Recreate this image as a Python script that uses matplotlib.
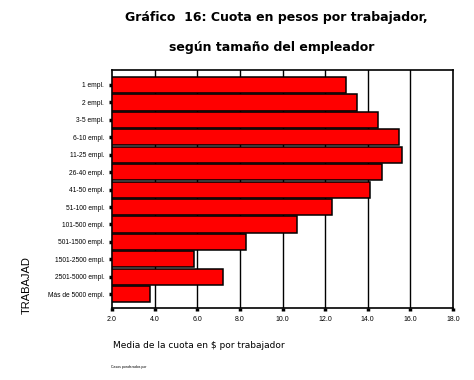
import matplotlib
matplotlib.use("Agg")
import matplotlib.pyplot as plt

# tamaño del empleador y cuota media por trabajador
categorias = ["1 empl.", "2 empl.", "3-5 empl.", "6-10 empl.", "11-25 empl.",
              "26-40 empl.", "41-50 empl.", "51-100 empl.", "101-500 empl.",
              "501-1500 empl.", "1501-2500 empl.", "2501-5000 empl.",
              "Más de 5000 empl."]
cuota = [12.97, 13.48, 14.47, 15.46, 15.63, 14.66, 14.12, 12.31, 10.69,
         8.30, 5.87, 7.23, 3.79]
x_ticks = [2, 4, 6, 8, 10, 12, 14, 16, 18]
x_ticklabels = ["2.0", "4.0", "6.0", "8.0", "10.0", "12.0", "14.0", "16.0", "18.0"]

plt.rcParams["font.family"] = ["Liberation Sans", "DejaVu Sans"]

fig = plt.figure(figsize=(4.74, 3.8), dpi=100)
ax = fig.add_axes([112 / 474, 1 - 308 / 380, 341 / 474, 238 / 380])

pos = list(range(len(categorias)))
# barras desde 2.0 (inicio del eje)
ax.barh(pos, [v - 2 for v in cuota], left=2, height=0.93, color="#ff0000",
        edgecolor="black", linewidth=1.1, zorder=3)

ax.set_xlim(2, 18)
ax.set_ylim(12.79, -0.86)
ax.set_xticks(x_ticks)
ax.set_xticklabels(x_ticklabels, fontsize=5)
ax.set_yticks(pos)
ax.set_yticklabels(categorias, fontsize=4.8)
ax.tick_params(axis="both", length=2.5, width=2.5, color="black", direction="out")
ax.tick_params(axis="y", pad=3)
ax.tick_params(axis="x", pad=3)

for xv in x_ticks[1:-1]:
    ax.axvline(xv, color="black", linewidth=1.0, zorder=1)
for s in ax.spines.values():
    s.set_linewidth(1.2)

fig.text(276 / 474, 1 - 17 / 380, "Gráfico  16: Cuota en pesos por trabajador,",
         ha="center", va="center", fontsize=9, fontweight="heavy",
         family="DejaVu Sans")
fig.text(272 / 474, 1 - 47 / 380, "según tamaño del empleador",
         ha="center", va="center", fontsize=9, fontweight="heavy",
         family="DejaVu Sans")

fig.text(113 / 474, 1 - 345 / 380, "Media de la cuota en $ por trabajador",
         ha="left", va="center", fontsize=6.5, family="DejaVu Sans")
fig.text(111 / 474, 1 - 367 / 380, "Casos ponderados por",
         ha="left", va="center", fontsize=2.5)
fig.text(27 / 474, 1 - 285 / 380, "TRABAJAD", rotation=90,
         ha="center", va="center", fontsize=8)

fig.savefig("out.png", dpi=100)
